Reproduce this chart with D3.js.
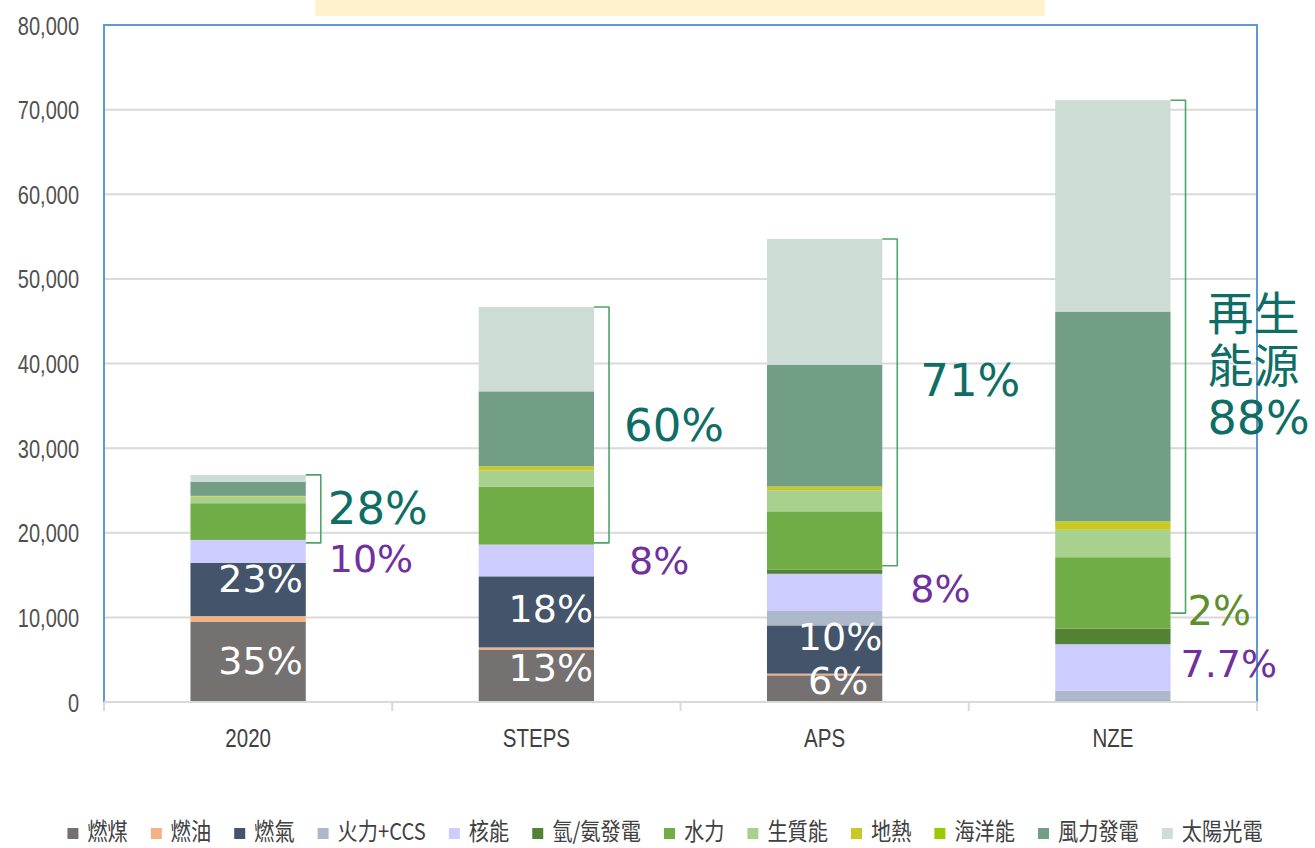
<!DOCTYPE html>
<html>
<head>
<meta charset="utf-8">
<script src="https://cdn.jsdelivr.net/npm/d3@7"></script>
<style>
  body { margin: 0; background: #fff; }
</style>
</head>
<body>
<svg id="main-chart"></svg>
<script>
// categories and series (TWh)
const categories = ["2020", "STEPS", "APS", "NZE"];
const sources = ["燃煤", "燃油", "燃氣", "火力+CCS", "核能", "氫/氨發電", "水力", "生質能", "地熱", "海洋能", "風力發電", "太陽光電"];
const sourceColors = ["#767171", "#F4B183", "#44546A", "#ADB9CA", "#CCCCFF", "#548235", "#70AD47", "#A9D18E", "#C9C825", "#99CC00", "#739E86", "#CDDDD6"];

const coal       = [9500, 6200, 3150, 0];
const oil        = [650, 250, 200, 0];
const gas        = [6300, 8400, 5700, 180];
const ccs        = [0, 0, 1700, 1150];
const nuclear    = [2700, 3750, 4400, 5500];
const hydrogen   = [0, 0, 480, 1830];
const hydro      = [4340, 6850, 6900, 8450];
const bioenergy  = [780, 1900, 2500, 3240];
const geothermal = [90, 480, 400, 960];
const ocean      = [0, 20, 30, 60];
const wind       = [1670, 8860, 14400, 24770];
const solar      = [810, 9960, 14860, 24970];

const yTicks = [0, 10000, 20000, 30000, 40000, 50000, 60000, 70000, 80000];

// renewables bracket: lower end (TWh) per category, upper end is the bar total
const bracketLow = [18800, 18800, 16100, 10500];

// share labels: category, vertical centre (TWh) of first line, text lines, kind
const shareLabels = [
  {cat: "2020",  at: 5000,  lines: ["35%"], kind: "in"},
  {cat: "2020",  at: 14660, lines: ["23%"], kind: "in"},
  {cat: "2020",  at: 22930, lines: ["28%"], kind: "ren"},
  {cat: "2020",  at: 17020, lines: ["10%"], kind: "nuc"},
  {cat: "STEPS", at: 4140,  lines: ["13%"], kind: "in"},
  {cat: "STEPS", at: 11110, lines: ["18%"], kind: "in"},
  {cat: "STEPS", at: 32740, lines: ["60%"], kind: "ren"},
  {cat: "STEPS", at: 16780, lines: ["8%"],  kind: "nuc"},
  {cat: "APS",   at: 2600,  lines: ["6%"],  kind: "in"},
  {cat: "APS",   at: 7800,  lines: ["10%"], kind: "in"},
  {cat: "APS",   at: 38060, lines: ["71%"], kind: "ren"},
  {cat: "APS",   at: 13470, lines: ["8%"],  kind: "nuc"},
  {cat: "NZE",   at: 45980, lines: ["再生", "能源", "88%"], kind: "ren"},
  {cat: "NZE",   at: 10870, lines: ["2%"],  kind: "h2"},
  {cat: "NZE",   at: 4610,  lines: ["7.7%"], kind: "nuc"}
];

const series = [coal, oil, gas, ccs, nuclear, hydrogen, hydro, bioenergy, geothermal, ocean, wind, solar];

function drawChart() {
  const width = 1315, height = 848;
  const margin = {top: 25, right: 58, bottom: 146, left: 104};

  const svg = d3.select("#main-chart")
    .attr("width", width)
    .attr("height", height);

  const table = categories.map((c, i) => {
    const row = {cat: c};
    sources.forEach((s, k) => row[s] = series[k][i]);
    return row;
  });

  const x = d3.scaleBand()
    .domain(categories)
    .range([margin.left, width - margin.right])
    .paddingInner(0.6)
    .paddingOuter(0.3);

  const y = d3.scaleLinear()
    .domain([0, 80000])
    .range([height - margin.bottom, margin.top]);

  const color = d3.scaleOrdinal().domain(sources).range(sourceColors);

  // cropped title box at the top
  svg.append("rect")
    .attr("x", 315).attr("y", 0)
    .attr("width", 730).attr("height", 16)
    .attr("fill", "#FFF2CC");

  // gridlines
  svg.append("g")
    .selectAll("line")
    .data(yTicks.filter(d => d > 0 && d < 80000))
    .join("line")
    .attr("x1", margin.left).attr("x2", width - margin.right)
    .attr("y1", d => y(d)).attr("y2", d => y(d))
    .attr("stroke", "#D9D9D9")
    .attr("stroke-width", 2);

  // plot frame (blue)
  svg.append("rect")
    .attr("x", margin.left).attr("y", margin.top)
    .attr("width", width - margin.right - margin.left)
    .attr("height", y(0) - margin.top)
    .attr("fill", "none")
    .attr("stroke", "#5B9BD5")
    .attr("stroke-width", 2);

  // y axis labels
  const yAxis = svg.append("g")
    .attr("transform", `translate(${margin.left},0)`)
    .call(d3.axisLeft(y).tickValues(yTicks).tickFormat(d3.format(",")).tickSize(0).tickPadding(25));
  yAxis.select(".domain").remove();
  yAxis.selectAll("text")
    .attr("x", -25 / 0.8)
    .attr("dy", "0.36em")
    .attr("transform", "scale(0.8,1)")
    .attr("font-family", "'Liberation Sans', Arial, sans-serif")
    .attr("font-size", 25)
    .attr("fill", "#505050");

  // stacked bars
  const stacked = d3.stack().keys(sources)(table);
  svg.append("g")
    .selectAll("g")
    .data(stacked)
    .join("g")
    .attr("fill", d => color(d.key))
    .selectAll("rect")
    .data(d => d)
    .join("rect")
    .attr("x", d => x(d.data.cat))
    .attr("y", d => y(d[1]))
    .attr("width", x.bandwidth())
    .attr("height", d => y(d[0]) - y(d[1]));

  // x axis
  const xAxis = svg.append("g")
    .attr("transform", `translate(0,${y(0)})`)
    .call(d3.axisBottom(x).tickSize(0));
  xAxis.select(".domain").remove();
  xAxis.selectAll(".tick text")
    .attr("x", 0)
    .attr("y", 45)
    .attr("dy", null)
    .attr("transform", "scale(0.82,1)")
    .attr("font-family", "'Liberation Sans', Arial, sans-serif")
    .attr("font-size", 25)
    .attr("fill", "#404040");

  svg.append("line")
    .attr("x1", margin.left).attr("x2", width - margin.right)
    .attr("y1", y(0)).attr("y2", y(0))
    .attr("stroke", "#D9D9D9")
    .attr("stroke-width", 2);

  const step = x.step();
  const gap = (step - x.bandwidth()) / 2;
  svg.append("g")
    .selectAll("line")
    .data(d3.range(categories.length + 1))
    .join("line")
    .attr("x1", i => i < categories.length ? x(categories[i]) - gap : x(categories[i - 1]) + x.bandwidth() + gap)
    .attr("x2", i => i < categories.length ? x(categories[i]) - gap : x(categories[i - 1]) + x.bandwidth() + gap)
    .attr("y1", y(0)).attr("y2", y(0) + 9)
    .attr("stroke", "#D9D9D9")
    .attr("stroke-width", 2);

  // renewables brackets
  const totals = table.map(r => d3.sum(sources, s => r[s]));
  svg.append("g")
    .selectAll("path")
    .data(categories)
    .join("path")
    .attr("d", (c, i) => {
      const x0 = x(c) + x.bandwidth();
      const x1 = x0 + 15;
      return `M${x0},${y(totals[i])} H${x1} V${y(bracketLow[i])} H${x0}`;
    })
    .attr("fill", "none")
    .attr("stroke", "#4FA468")
    .attr("stroke-width", 1.6)
    .attr("stroke-linejoin", "round");

  // share labels
  const nudge = {
    "2020|in": -3, "STEPS|in": -1, "APS|in": 0,
    "2020|ren": 22, "STEPS|ren": 30, "APS|ren": 38, "NZE|ren": 37,
    "2020|nuc": 23, "STEPS|nuc": 35, "APS|nuc": 28, "NZE|nuc": 10,
    "NZE|h2": 17
  };
  const kindStyle = {
    in:  {fill: "#FFFFFF", size: 38, anchor: "end"},
    ren: {fill: "#0E6E66", size: 45, anchor: "start"},
    nuc: {fill: "#7030A0", size: 38, anchor: "start"},
    h2:  {fill: "#5E8F2C", size: 40, anchor: "start"}
  };
  const isCjk = s => /[\u4e00-\u9fff]/.test(s);
  const labels = svg.append("g")
    .selectAll("text")
    .data(shareLabels)
    .join("text")
    .attr("text-anchor", d => kindStyle[d.kind].anchor)
    .attr("fill", d => kindStyle[d.kind].fill);

  labels.each(function(d) {
    const st = kindStyle[d.kind];
    let dx = nudge[d.cat + "|" + d.kind];
    if (d.lines[0] === "6%") dx = -14;
    const tx = x(d.cat) + x.bandwidth() + dx;
    const multi = d.lines.length > 1;
    d.lines.forEach((line, j) => {
      const size = multi ? 46 : st.size;
      const cy = y(d.at) + j * 52;
      d3.select(this).append("tspan")
        .attr("x", tx)
        .attr("y", cy + (isCjk(line) ? 0.38 : 0.365) * size)
        .attr("font-family", isCjk(line) ? "'Noto Sans CJK TC', sans-serif" : "'DejaVu Sans', sans-serif")
        .attr("font-size", size)
        .text(line);
    });
  });

  // legend
  const legend = svg.append("g");
  let cursor = 0;
  sources.forEach((s, k) => {
    const item = legend.append("g");
    item.append("rect")
      .attr("x", cursor).attr("y", 828)
      .attr("width", 11).attr("height", 11)
      .attr("fill", color(s));
    const t = item.append("text")
      .attr("transform", `translate(${cursor + 20},840) scale(0.86,1)`)
      .attr("font-family", "'Noto Sans CJK TC', sans-serif")
      .attr("font-size", 23.5)
      .attr("fill", "#404040")
      .text(s);
    const w = t.node().getComputedTextLength() * 0.86;
    cursor += 20 + w + (k < sources.length - 1 ? 23 : 0);
  });
  legend.attr("transform", `translate(${665 - cursor / 2},0)`);
}

drawChart();
</script>
</body>
</html>
